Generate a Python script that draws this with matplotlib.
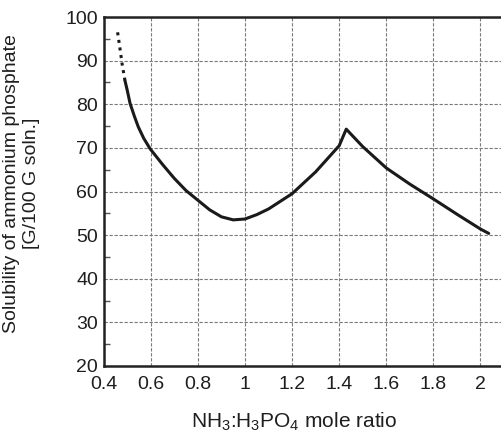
import matplotlib
matplotlib.use("Agg")
import matplotlib.pyplot as plt
from matplotlib.ticker import MultipleLocator

plt.rcParams['font.family'] = ['Liberation Sans', 'DejaVu Sans']
plt.rcParams['mathtext.fontset'] = 'custom'
plt.rcParams['mathtext.rm'] = 'Liberation Sans'

# extrapolated (dotted) part of the curve
x_dot = [0.459, 0.468, 0.478, 0.49]
y_dot = [96.5, 93.2, 89.3, 85.5]

# measured solubility curve
x_sol = [0.49, 0.50, 0.512, 0.53, 0.547, 0.57, 0.597, 0.65, 0.7, 0.75, 0.8, 0.85,
         0.9, 0.95, 1.0, 1.05, 1.1, 1.2, 1.3, 1.4, 1.43, 1.5, 1.6, 1.7, 1.8, 1.9,
         2.0, 2.035]
y_sol = [85.5, 83.2, 80.2, 77.3, 74.8, 72.2, 69.8, 66.2, 63.0, 60.2, 58.0, 55.8,
         54.2, 53.5, 53.7, 54.7, 56.0, 59.5, 64.5, 70.5, 74.3, 70.3, 65.4, 61.7,
         58.3, 54.8, 51.4, 50.4]

x_ticks = [0.4, 0.6, 0.8, 1.0, 1.2, 1.4, 1.6, 1.8, 2.0]
x_ticklabels = ['0.4', '0.6', '0.8', '1', '1.2', '1.4', '1.6', '1.8', '2']
y_ticks = [20, 30, 40, 50, 60, 70, 80, 90, 100]

fig = plt.figure(figsize=(5.01, 4.34), dpi=100)
ax = fig.add_axes([0.207, 0.1567, 0.799, 0.804])

ax.plot(x_dot, y_dot, color='#1a1a1a', lw=2.2, ls=(0, (1, 1.5)))
ax.plot(x_sol, y_sol, color='#1a1a1a', lw=2.2, solid_capstyle='round',
        solid_joinstyle='round')

ax.set_xlim(0.4, 2.1)
ax.set_ylim(20, 100)
ax.set_xticks(x_ticks)
ax.set_xticklabels(x_ticklabels)
ax.set_yticks(y_ticks)
ax.yaxis.set_minor_locator(MultipleLocator(5))

ax.grid(True, which='major', color='#7a7a7a', lw=0.8, ls=(0, (3, 1.5)))
ax.tick_params(which='major', direction='in', length=0, labelsize=14,
               colors='#1e1e1e')
ax.tick_params(axis='x', which='major', pad=7)
ax.tick_params(axis='y', which='major', pad=4)
ax.tick_params(axis='y', which='minor', direction='in', length=4, width=1,
               color='#555555')
ax.tick_params(axis='x', which='minor', length=0)

for s in ['left', 'top', 'bottom']:
    ax.spines[s].set_linewidth(1.8)
    ax.spines[s].set_color('#222222')
ax.spines['right'].set_visible(False)

ax.set_xlabel('NH$_3$:H$_3$PO$_4$ mole ratio', fontsize=15, color='#1e1e1e')
ax.xaxis.set_label_coords(0.476, -0.128)
ax.set_ylabel('Solubility of ammonium phosphate\n[G/100 G soln.]',
              fontsize=14, color='#1e1e1e', linespacing=1.25)
ax.yaxis.set_label_coords(-0.158, 0.523)

plt.savefig('out.png', dpi=100)
